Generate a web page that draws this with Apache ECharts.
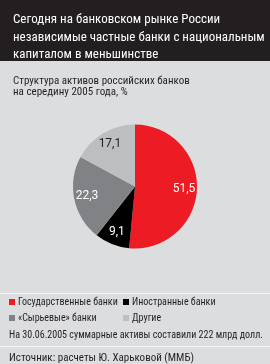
<!DOCTYPE html>
<html>
<head>
<meta charset="utf-8">
<script src="https://cdn.jsdelivr.net/npm/echarts@6/dist/echarts.min.js"></script>
<style>
  html, body { margin: 0; padding: 0; background: #dcddde; }
  #chart { width: 270px; height: 364px; }
</style>
</head>
<body>
<div id="chart"></div>
<script>
const categories = ['Государственные банки', 'Иностранные банки', '«Сырьевые» банки', 'Другие']
const values = [51.5, 9.1, 22.3, 17.1]
const colors = ['#ed1c24', '#000000', '#808285', '#bcbec0']
const labelColors = ['#ffffff', '#ffffff', '#ffffff', '#231f20']

const narrow = '"Roboto Condensed"'

const chart = echarts.init(document.getElementById('chart'))

const pieData = categories.map((name, i) => ({
  name,
  value: values[i],
  itemStyle: { color: colors[i] },
}))

// второй слой только для подписей, чтобы они стояли ближе к краю
const labelData = categories.map((name, i) => ({
  name,
  value: values[i],
  label: { color: labelColors[i] },
}))

const legendText = { color: '#231f20', fontFamily: narrow, fontSize: 10, lineHeight: 12, padding: [0, 0, 0, -2] }

const option = {
  backgroundColor: '#dcddde',
  animation: false,
  title: [
    {
      text: 'Сегодня на банковском рынке России\nнезависимые частные банки с национальным\nкапиталом в меньшинстве',
      left: 8,
      top: 6,
      textStyle: { color: '#ffffff', fontFamily: narrow, fontSize: 13, fontWeight: 'normal', lineHeight: 17.5 },
    },
    {
      text: 'Структура активов российских банков\nна середину 2005 года, %',
      left: 8,
      top: 70,
      textStyle: { color: '#231f20', fontFamily: narrow, fontSize: 11, fontWeight: 'normal', lineHeight: 11.5 },
    },
  ],
  graphic: [
    { type: 'rect', z: -1, shape: { x: 0, y: 0, width: 270, height: 61 }, style: { fill: '#231f20' } },
    { type: 'line', shape: { x1: 0, y1: 293.5, x2: 270, y2: 293.5 }, style: { stroke: '#f4f4f4', lineWidth: 1 } },
    { type: 'line', shape: { x1: 0, y1: 346.5, x2: 270, y2: 346.5 }, style: { stroke: '#f4f4f4', lineWidth: 1 } },
    {
      type: 'text', left: 9, top: 330,
      style: { text: 'На 30.06.2005 суммарные активы составили 222 млрд долл.', fill: '#231f20', font: '10px ' + narrow },
    },
    {
      type: 'text', left: 9, top: 352.5,
      style: { text: 'Источник: расчеты Ю. Харьковой (ММБ)', fill: '#231f20', font: '11px ' + narrow },
    },
  ],
  legend: [
    {
      data: [categories[0], categories[2]],
      orient: 'vertical', left: 4, top: 291,
      icon: 'rect', itemWidth: 6, itemHeight: 6, itemGap: 4,
      textStyle: legendText,
    },
    {
      data: [categories[1], categories[3]],
      orient: 'vertical', left: 118, top: 291,
      icon: 'rect', itemWidth: 6, itemHeight: 6, itemGap: 4,
      textStyle: legendText,
    },
  ],
  series: [
    {
      type: 'pie',
      center: [135, 186.5],
      radius: [0, 62],
      startAngle: 90,
      clockwise: true,
      label: { show: false },
      labelLine: { show: false },
      emphasis: { disabled: true },
      data: pieData,
    },
    {
      type: 'pie',
      center: [135, 186.5],
      radius: [30, 62],
      startAngle: 90,
      clockwise: true,
      silent: true,
      itemStyle: { color: 'transparent' },
      label: {
        show: true,
        position: 'inside',
        fontFamily: 'Roboto, sans-serif',
        fontSize: 12,
        formatter: (p) => p.value.toFixed(1).replace('.', ','),
      },
      labelLine: { show: false },
      emphasis: { disabled: true },
      data: labelData,
    },
  ],
}

chart.setOption(option)
</script>
</body>
</html>
